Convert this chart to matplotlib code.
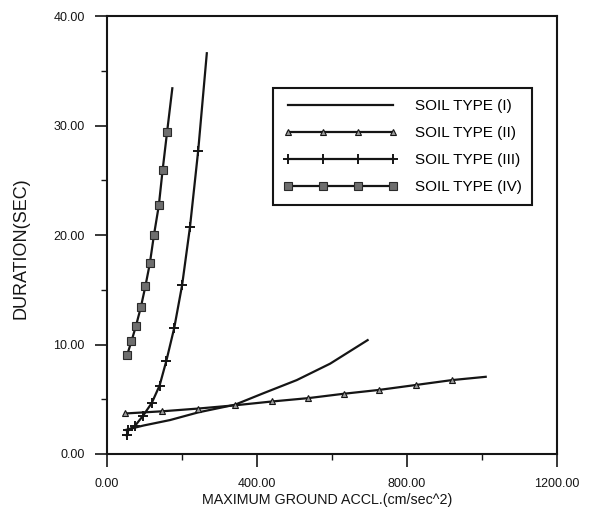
import numpy as np
import matplotlib
matplotlib.use('Agg')
import matplotlib.pyplot as plt
from matplotlib.ticker import MultipleLocator, FormatStrFormatter

plt.rcParams['font.family'] = ['Liberation Sans', 'DejaVu Sans']

# Duration vs. peak ground acceleration for each soil class
soil1_acc = [50, 97, 168, 243, 341, 417, 506, 595, 695]
soil1_dur = [2.2, 2.6, 3.1, 3.8, 4.5, 5.55, 6.75, 8.25, 10.4]

soil2_acc = [48, 147, 243, 342, 441, 536, 631, 725, 823, 920, 1010]
soil2_dur = [3.7, 3.9, 4.15, 4.45, 4.8, 5.1, 5.5, 5.85, 6.3, 6.75, 7.05]

soil3_acc = [52, 57, 74, 96, 119, 140, 158, 179, 200, 221, 243, 266]
soil3_dur = [1.7, 2.2, 2.55, 3.5, 4.65, 6.25, 8.5, 11.5, 15.4, 20.7, 27.7, 36.6]

soil4_acc = [53, 65, 77, 90, 102, 114, 125, 138, 148, 160, 174]
soil4_dur = [9.0, 10.3, 11.7, 13.4, 15.3, 17.4, 20.0, 22.7, 25.9, 29.4, 33.4]

labels = ['SOIL TYPE (I)', 'SOIL TYPE (II)', 'SOIL TYPE (III)', 'SOIL TYPE (IV)']

ink = '#151515'

fig = plt.figure(figsize=(5.95, 5.08), dpi=100)
ax = fig.add_axes([0.180, 0.1063, 0.756, 0.8622])

ax.plot(soil1_acc, soil1_dur, color=ink, lw=1.6, label=labels[0])
ax.plot(soil2_acc, soil2_dur, color=ink, lw=1.6, marker='^', ms=4.5,
        mfc='#9a9a9a', mec=ink, mew=0.8, markevery=list(range(len(soil2_acc) - 1)),
        label=labels[1])
ax.plot(soil3_acc, soil3_dur, color=ink, lw=1.6, marker='+', ms=7, mew=1.4,
        markevery=list(range(len(soil3_acc) - 1)), label=labels[2])
ax.plot(soil4_acc, soil4_dur, color=ink, lw=1.6, marker='s', ms=5.8,
        mfc='#6e6e6e', mec='#2a2a2a', mew=0.8,
        markevery=list(range(len(soil4_acc) - 1)), label=labels[3])

ax.set_xlim(0, 1200)
ax.set_ylim(0, 40)
ax.xaxis.set_major_locator(MultipleLocator(400))
ax.xaxis.set_minor_locator(MultipleLocator(200))
ax.yaxis.set_major_locator(MultipleLocator(10))
ax.yaxis.set_minor_locator(MultipleLocator(5))
ax.xaxis.set_major_formatter(FormatStrFormatter('%.2f'))
ax.yaxis.set_major_formatter(FormatStrFormatter('%.2f'))

ax.tick_params(axis='both', which='major', direction='out', length=9, width=1.2,
               colors=ink, labelsize=9)
ax.tick_params(axis='x', which='major', pad=8)
ax.tick_params(axis='y', which='major', pad=7)
ax.tick_params(axis='both', which='minor', direction='out', length=4.5, width=1.0,
               colors=ink)

for side in ax.spines.values():
    side.set_linewidth(1.5)
    side.set_color(ink)

ax.set_xlabel('MAXIMUM GROUND ACCL.(cm/sec^2)', fontsize=10.3, color=ink)
ax.xaxis.set_label_coords(0.49, -0.088)
ax.set_ylabel('DURATION(SEC)', fontsize=13, color=ink)
ax.yaxis.set_label_coords(-0.172, 0.47)

leg = ax.legend(loc='upper left', bbox_to_anchor=(0.368, 0.835), borderaxespad=0,
                numpoints=4, handlelength=7.5, handletextpad=1.1, labelspacing=0.86,
                borderpad=0.7, fontsize=11, fancybox=False, framealpha=1,
                edgecolor=ink)
leg.get_frame().set_linewidth(1.5)

fig.savefig('out.png', dpi=100)
